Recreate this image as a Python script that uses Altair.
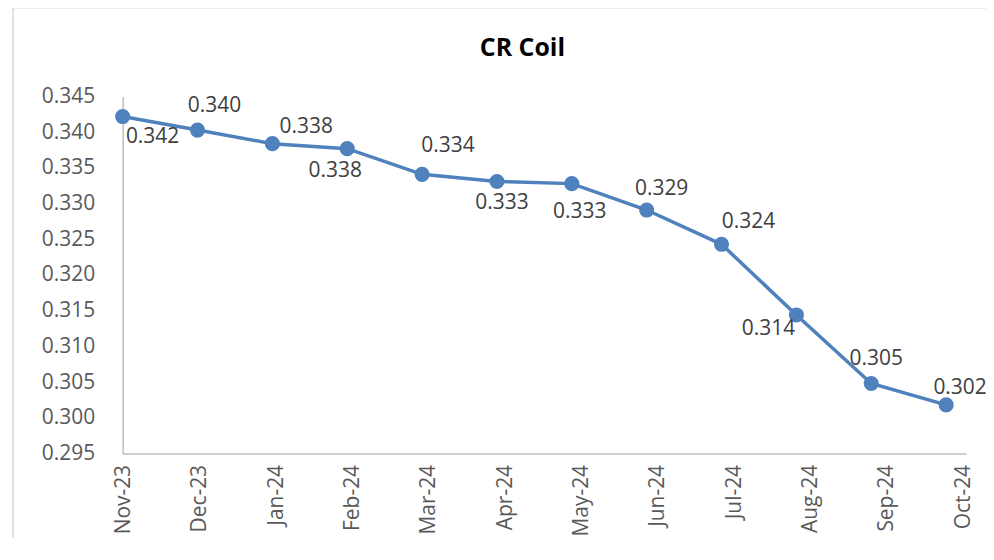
import altair as alt
import pandas as pd

months = ["Nov-23", "Dec-23", "Jan-24", "Feb-24", "Mar-24", "Apr-24",
          "May-24", "Jun-24", "Jul-24", "Aug-24", "Sep-24", "Oct-24"]
values = [0.3422, 0.3403, 0.3384, 0.3377, 0.3341, 0.3331,
          0.3328, 0.3291, 0.3243, 0.3144, 0.3048, 0.3018]
labels = ["0.342", "0.340", "0.338", "0.338", "0.334", "0.333",
          "0.333", "0.329", "0.324", "0.314", "0.305", "0.302"]
# label placement offsets (pixels)
label_dx = [30, 17, 34, -12, 26, 5, 8, 15, 27, -28, 5, 14]
label_dy = [21, -24, -17, 22, -28, 22, 28, -21, -22, 14, -25, -17]

df = pd.DataFrame({"i": list(range(len(months))), "month": months,
                   "value": values, "label": labels})

W, H = 846, 358
PW = 826  # span of the points
PAD_R = 20
xmax = 11 * W / PW
color = "#4F81BD"
font = "Open Sans"
fs = 21

month_arr = "[" + ",".join(f"'{m}'" for m in months) + "]"
label_expr = f"{month_arr}[round(datum.value * {PW} / {W - 4})]"
tick_vals = [k * (W - 4) / PW for k in range(12)]

x = alt.X("i:Q", scale=alt.Scale(domain=[0, xmax], nice=False, zero=False),
          axis=alt.Axis(values=tick_vals, labelExpr=label_expr, labelAngle=-90,
                        grid=False, ticks=False, domainColor="#bfbfbf", domainWidth=1.5,
                        labelFont=font, labelFontSize=fs, labelColor="#595959",
                        labelPadding=11, labelAlign="right", labelBaseline="middle",
                        labelOffset=1, title=None))
y = alt.Y("value:Q", scale=alt.Scale(domain=[0.295, 0.345], nice=False, zero=False),
          axis=alt.Axis(values=[0.295 + 0.005 * k for k in range(11)], format=".3f",
                        grid=False, ticks=False, domainColor="#bfbfbf", domainWidth=1.5,
                        labelFont=font, labelFontSize=fs, labelColor="#595959",
                        labelPadding=28, title=None))

base = alt.Chart(df)
line = base.mark_line(color=color, strokeWidth=3.5).encode(x=x, y=y)
pts = base.mark_circle(color=color, size=230, opacity=1).encode(x=x, y=y)

text_layers = []
for k in range(len(months)):
    t = alt.Chart(df.iloc[[k]]).mark_text(
        font=font, fontSize=fs, color="#404040", dx=label_dx[k], dy=label_dy[k],
        align="center", baseline="middle").encode(x=x, y=y, text="label:N")
    text_layers.append(t)

# outer chart frame: top and left edges (others run off the page)
frame_top = alt.Chart(df.iloc[[0]]).mark_rule(stroke="#d9d9d9", strokeWidth=1.5).encode(
    x=alt.value(-110), x2=alt.value(W + PAD_R), y=alt.value(-89))
frame_left = alt.Chart(df.iloc[[0]]).mark_rule(stroke="#d9d9d9", strokeWidth=1.5).encode(
    x=alt.value(-110), y=alt.value(-89), y2=alt.value(H + 90))

title = alt.Chart(df.iloc[[0]]).mark_text(
    text="CR Coil", font=font, fontSize=25, fontWeight="bold", color="#000000",
    align="center", baseline="middle").encode(x=alt.value(401), y=alt.value(-49))

chart = alt.layer(frame_top, frame_left, line, pts, *text_layers, title).properties(
    width=W, height=H,
    autosize=alt.AutoSizeParams(type="none"),
    padding={"left": 115, "top": 88, "right": PAD_R, "bottom": 84},
).configure(background="white").configure_view(strokeWidth=0, stroke=None)

chart.save("out.html", embed_options={"renderer": "svg", "actions": False})
